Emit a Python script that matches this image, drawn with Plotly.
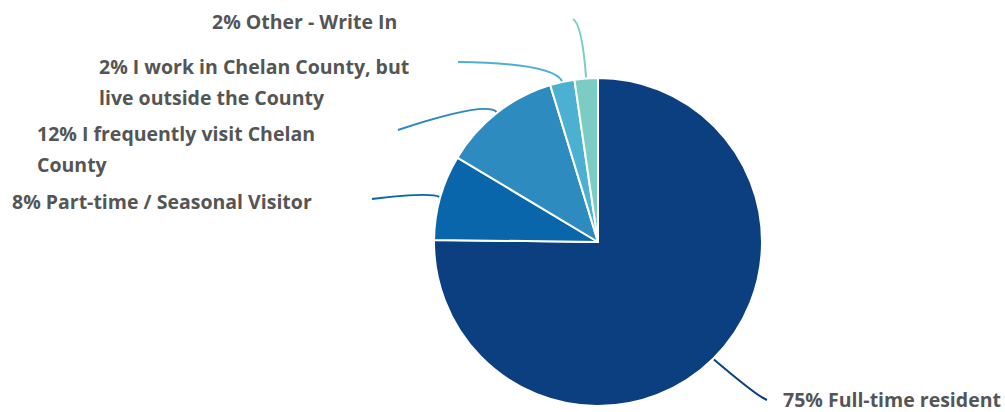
import math
import plotly.graph_objects as go

# ---- data ----
categories = [
    "Full-time resident",
    "Part-time / Seasonal Visitor",
    "I frequently visit Chelan County",
    "I work in Chelan County, but live outside the County",
    "Other - Write In",
]
shares = [75.2, 8.4, 11.7, 2.4, 2.3]
colors = ["#0b3f80", "#0a66aa", "#2d8bbf", "#4bb0d2", "#7accc4"]

# ---- layout helpers ----
W, H = 1005, 412
CX, CY, R = 598, 242, 164

def px(x):
    return x / W

def py(y):
    return 1 - y / H

total = sum(shares)
mids = []
acc = 0
for v in shares:
    mids.append((acc + v / 2) / total * 2 * math.pi)
    acc += v

fig = go.Figure(go.Pie(
    labels=categories,
    values=shares,
    sort=False,
    direction="clockwise",
    rotation=0,
    marker=dict(colors=colors, line=dict(color="white", width=2)),
    textinfo="none",
    hoverinfo="label+percent",
    showlegend=False,
    domain=dict(x=[px(CX - R), px(CX + R)], y=[py(CY + R), py(CY - R)]),
))

pct = [f"{round(v / total * 100)}%" for v in shares]
label_lines = [
    [f"{pct[0]} {categories[0]}"],
    [f"{pct[1]} {categories[1]}"],
    [f"{pct[2]} I frequently visit Chelan", "County"],
    [f"{pct[3]} I work in Chelan County, but", "live outside the County"],
    [f"{pct[4]} {categories[4]}"],
]
label_pos = [(781, 399), (10, 201), (35, 133), (97, 66), (210, 22)]
LINE_H = 31

annotations = []
for lines, (lx, ly) in zip(label_lines, label_pos):
    for k, t in enumerate(lines):
        annotations.append(dict(
            x=px(lx), y=py(ly + k * LINE_H), xref="paper", yref="paper",
            text=t, showarrow=False, xanchor="left", yanchor="middle",
            font=dict(family="Open Sans", size=19.5, color="#555555", weight=700),
        ))

bends = [
    [(757, 396), (767, 400)],
    [(431, 192), (372, 199)],
    [(486, 101), (398, 130)],
    [(552, 63), (458, 62)],
    [(582, 24), (573, 19)],
]
shapes = []
for i, (ctrl, end) in enumerate(bends):
    sx, sy = CX + (R + 1) * math.sin(mids[i]), CY - (R + 1) * math.cos(mids[i])
    path = (f"M {px(sx)} {py(sy)} Q {px(ctrl[0])} {py(ctrl[1])} "
            f"{px(end[0])} {py(end[1])}")
    shapes.append(dict(type="path", xref="paper", yref="paper", path=path,
                       line=dict(color=colors[i], width=2)))

fig.update_layout(
    width=W, height=H,
    margin=dict(l=0, r=0, t=0, b=0),
    paper_bgcolor="white", plot_bgcolor="white",
    annotations=annotations, shapes=shapes,
)

fig.write_html("out.html", config={"displayModeBar": False},
               post_script="document.body.style.margin='0';document.body.style.overflow='hidden';")
